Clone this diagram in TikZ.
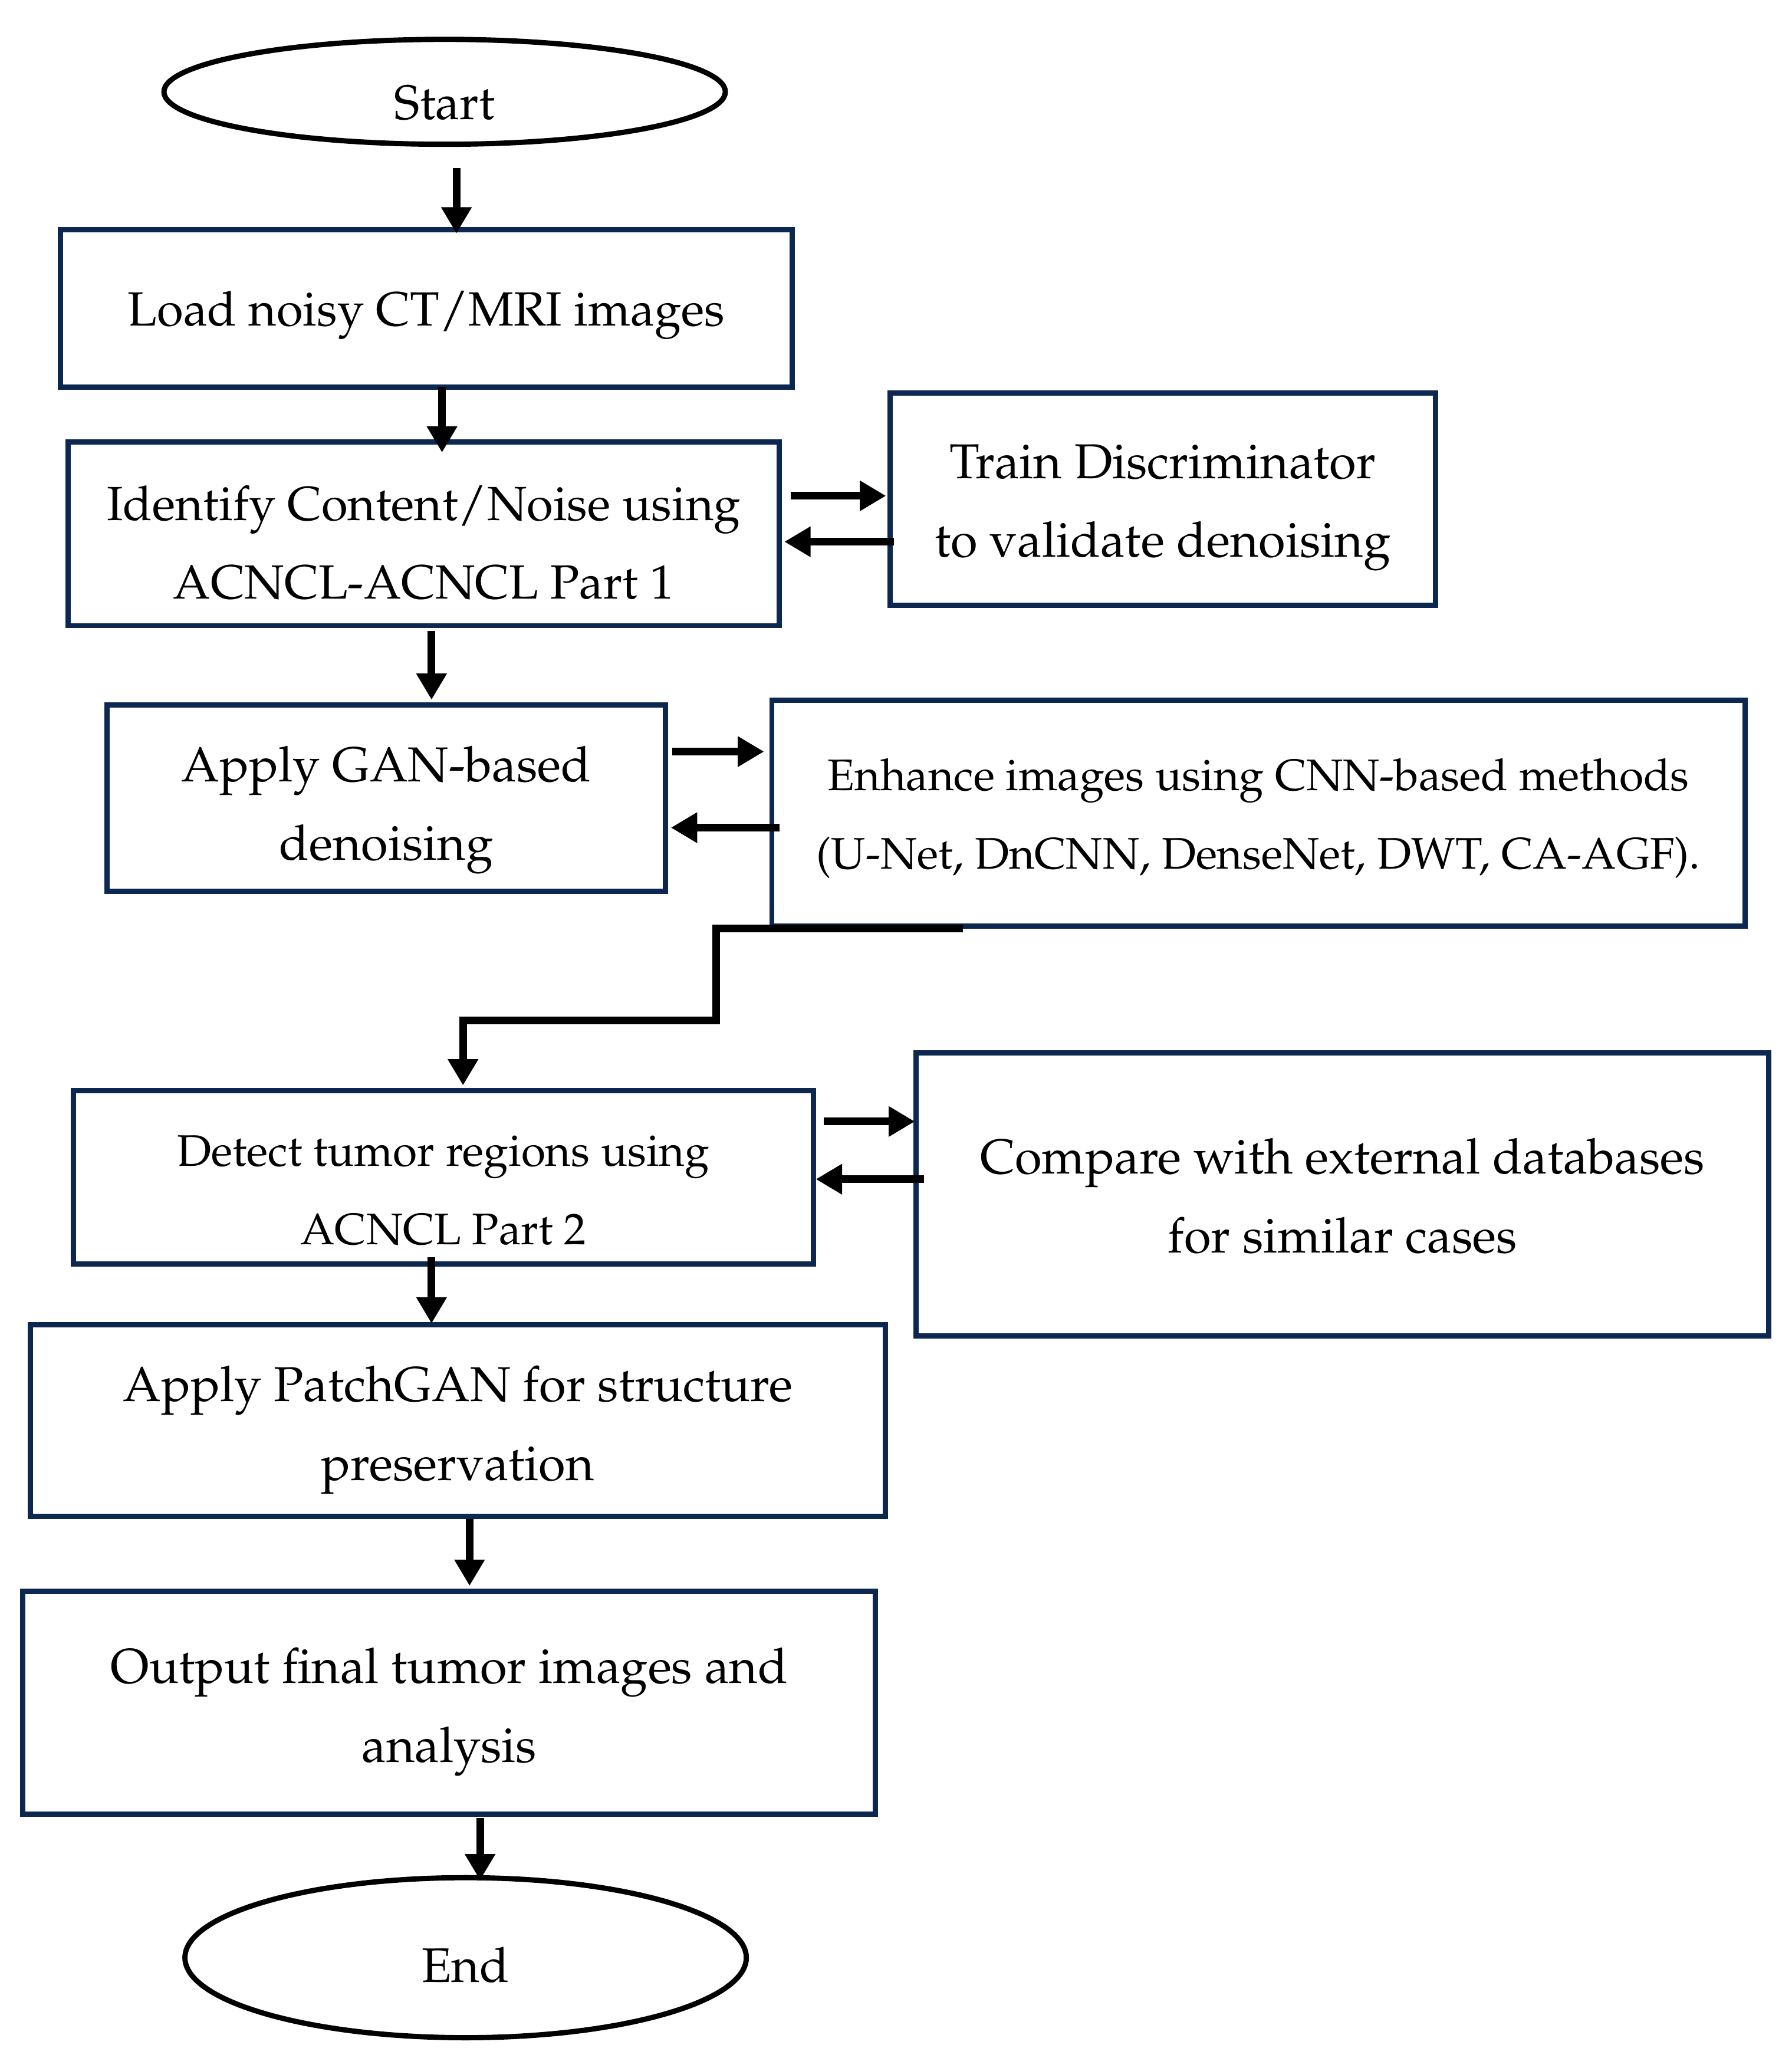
\documentclass[tikz,border=0pt]{standalone}
\usepackage[T1]{fontenc}
\usepackage{mathpazo}
\usetikzlibrary{arrows.meta,calc,shapes.geometric}
\definecolor{navy}{RGB}{12,40,80}
\begin{document}
\begin{tikzpicture}[x=0.5pt,y=-0.5pt,
  box/.style={draw=navy,line width=2pt,rectangle,align=center,inner sep=0pt,
    text depth=0pt,font=\fontsize{18.7}{30}\selectfont},
  slimbox/.style={box,font=\fontsize{18.3}{30}\selectfont},
  smallbox/.style={box,font=\fontsize{16.85}{30}\selectfont},
  term/.style={draw=black,line width=2pt,ellipse,inner sep=0pt,
    text depth=0pt,font=\fontsize{18.5}{30}\selectfont},
  arr/.style={draw=black,line width=2.9pt,-{Triangle[length=10pt,width=11pt]}}]
\useasboundingbox (0,0) rectangle (1366,1569);
\node[term,minimum width=214pt,minimum height=40pt,text height=20.9pt] (start) at (339,70) {Start};
\node[slimbox,minimum width=279pt,minimum height=60pt,text height=13.3pt] (load) at (325,235) {Load noisy CT/MRI images};
\node[slimbox,minimum width=271pt,minimum height=70pt,text height=49.6pt] (ident) at (323,407) {Identify Content/Noise using\\ACNCL-ACNCL Part 1};
\node[box,minimum width=208pt,minimum height=81pt,text height=44.3pt] (train) at (886.5,380.5) {Train Discriminator\\to validate denoising};
\node[box,minimum width=213pt,minimum height=71pt,text height=47.3pt] (gan) at (294.5,608.5) {Apply GAN-based\\denoising};
\node[smallbox,minimum width=371pt,minimum height=86pt,text height=42.5pt] (enh) at (959.5,620) {Enhance images using CNN-based methods\\(U-Net, DnCNN, DenseNet, DWT, CA-AGF).};
\node[smallbox,minimum width=282pt,minimum height=66pt,text height=51.5pt] (det) at (338,897.5) {Detect tumor regions using\\ACNCL Part 2};
\node[box,minimum width=325pt,minimum height=108pt,text height=44.5pt] (comp) at (1023.5,910.5) {Compare with external databases\\for similar cases};
\node[box,minimum width=326pt,minimum height=73pt,text height=45.6pt] (patch) at (349,1083) {Apply PatchGAN for structure\\preservation};
\node[box,minimum width=325pt,minimum height=85pt,text height=45.3pt] (out) at (342.5,1298) {Output final tumor images and\\analysis};
\node[term,minimum width=214pt,minimum height=61pt,text height=18.5pt] (end) at (355,1492.5) {End};

\draw[arr] ($(start.south)+(9,16)$) -- ($(load.north)+(23,5)$);
\draw[arr] ($(load.south)+(12,-2)$) -- ($(ident.north)+(14,10)$);
\draw[arr] ($(ident.east)+(7,-29)$) -- ($(train.west)+(-1,-2.5)$);
\draw[arr] ($(train.west)+(5,32.5)$) -- ($(ident.east)+(2,6)$);
\draw[arr] ($(ident.south)+(6,2)$) -- ($(gan.north)+(34.5,-2)$);
\draw[arr] ($(gan.east)+(3,-35.5)$) -- ($(enh.west)+(-4,-47)$);
\draw[arr] ($(enh.west)+(8,11)$) -- ($(gan.east)+(2,22.5)$);
\draw[arr] ($(enh.south)+(-225.5,0)$) -- ++(-188,0) -- ++(0,70) -| ($(det.north)+(15,-2)$);
\draw[arr] ($(det.east)+(6,-42.5)$) -- ($(comp.west)+(1,-55.5)$);
\draw[arr] ($(comp.west)+(8,-11.5)$) -- ($(det.east)+(0,1.5)$);
\draw[arr] ($(det.south)+(-9,-7)$) -- ($(patch.north)+(-20,1)$);
\draw[arr] ($(patch.south)+(9,0)$) -- ($(out.north)+(15.5,-2)$);
\draw[arr] ($(out.south)+(23.5,1)$) -- ($(end.north)+(11,4)$);
\end{tikzpicture}
\end{document}
